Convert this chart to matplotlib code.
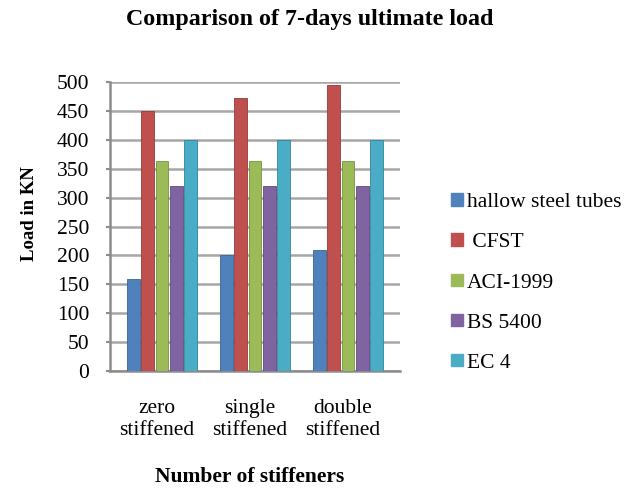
import numpy as np
import matplotlib.pyplot as plt
from matplotlib.patches import Patch

plt.rcParams['font.family'] = ['Liberation Serif', 'DejaVu Serif']

categories = ['zero\nstiffened', 'single\nstiffened', 'double\nstiffened']
series_names = ['hallow steel tubes', ' CFST', 'ACI-1999', 'BS 5400', 'EC 4']
hollow = [160, 200, 210]
cfst = [450, 472, 495]
aci = [363, 363, 363]
bs5400 = [320, 320, 320]
ec4 = [400, 400, 400]
yticks = [0, 50, 100, 150, 200, 250, 300, 350, 400, 450, 500]

colors = ['#4F81BD', '#C0504D', '#9BBB59', '#8064A2', '#4BACC6']
edges = ['#3A6496', '#943B39', '#76913F', '#5F4A7A', '#31859B']

fig = plt.figure(figsize=(6.34, 4.88), dpi=100)
# axes box in pixels: left 110, right 400, bottom 371, top 82
ax = fig.add_axes([110 / 634, 1 - 371 / 488, 290 / 634, 289 / 488])

x = np.arange(len(categories))
w = 0.153
for i, vals in enumerate([hollow, cfst, aci, bs5400, ec4]):
    ax.bar(x + (i - 2) * w, vals, width=w * 0.9, color=colors[i],
           edgecolor=edges[i], linewidth=0.6, zorder=3)

ax.set_xlim(-0.56, 2.56)
ax.set_ylim(0, 500)
ax.set_yticks(yticks)
ax.yaxis.grid(True, color='#A6A6A6', linewidth=1.8, zorder=0)
ax.set_axisbelow(True)
for s in ['top', 'right']:
    ax.spines[s].set_visible(False)
ax.spines['left'].set_color('#8C8C8C')
ax.spines['left'].set_linewidth(1.8)
ax.spines['bottom'].set_color('#8C8C8C')
ax.spines['bottom'].set_linewidth(1.8)
ax.tick_params(axis='y', length=3, width=1.5, color='#8C8C8C', labelsize=15.5, pad=12)
ax.tick_params(axis='x', length=0, labelsize=15.5, pad=20)
# category labels sit a little left of the bar groups (3-D look of the original)
ax.set_xticks(x - 0.055)
ax.set_xticklabels(categories, linespacing=1.2)

fig.text(310 / 634, 1 - 20 / 488, 'Comparison of 7-days ultimate load', ha='center', va='center',
         fontsize=17.3, fontweight='bold')
fig.text(250 / 634, 1 - 477 / 488, 'Number of stiffeners', ha='center', va='center',
         fontsize=15.5, fontweight='bold')
fig.text(30 / 634, 1 - 214 / 488, 'Load in KN', ha='center', va='center', rotation=90,
         fontsize=13.5, fontweight='bold')

fig.legend(handles=[Patch(color=c) for c in colors], labels=series_names,
           loc='center left', bbox_to_anchor=(432 / 634, 1 - 283 / 488),
           frameon=False, fontsize=15.5, handlelength=0.52, handleheight=0.52,
           handletextpad=0.2, labelspacing=0.98)

fig.savefig('out.png', dpi=100)
